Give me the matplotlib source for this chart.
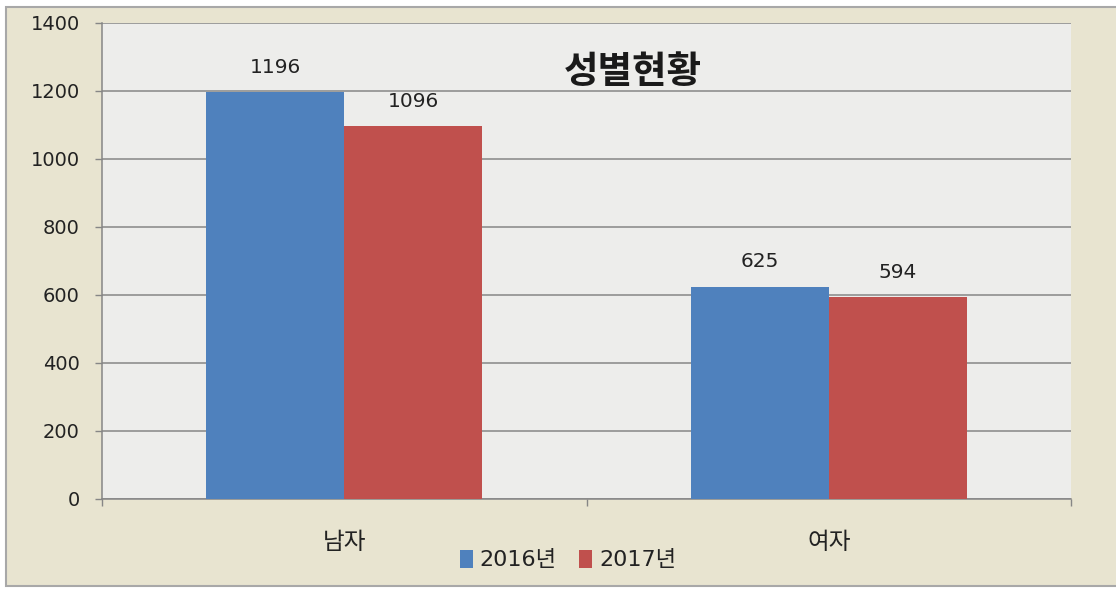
import matplotlib.pyplot as plt
import numpy as np
from matplotlib.patches import Rectangle

plt.rcParams['font.family'] = ['DejaVu Sans', 'Noto Sans CJK KR']

categories = ['남자', '여자']
series_names = ['2016년', '2017년']
values_2016 = [1196, 625]
values_2017 = [1096, 594]
yticks = [0, 200, 400, 600, 800, 1000, 1200, 1400]

blue = '#4F81BD'
red = '#C0504D'
grid_col = '#868686'

fig = plt.figure(figsize=(11.16, 5.94), dpi=100, facecolor='white')
# outer chart frame, behind the axes
fig.patches.append(Rectangle((6 / 1116, 8 / 594), 1.0, (586 - 7) / 594,
                             transform=fig.transFigure, facecolor='#E8E4D0',
                             edgecolor='#A8A8A8', lw=1.5, zorder=-1))

ax = fig.add_axes([102 / 1116, 95 / 594, 969 / 1116, 476 / 594])
ax.set_facecolor('#EDEDEB')

x = np.arange(len(categories))
w = 0.285
b1 = ax.bar(x - w / 2, values_2016, w, color=blue, label=series_names[0], zorder=3)
b2 = ax.bar(x + w / 2, values_2017, w, color=red, label=series_names[1], zorder=3)

for bars in (b1, b2):
    for rect in bars:
        ax.annotate(f'{int(rect.get_height())}',
                    (rect.get_x() + rect.get_width() / 2, rect.get_height()),
                    xytext=(0, 11), textcoords='offset points',
                    ha='center', va='bottom', fontsize=14.5, color='#222222')

ax.set_xlim(-0.5, 1.5)
ax.set_ylim(0, 1400)
ax.set_yticks(yticks)
ax.yaxis.grid(True, color=grid_col, lw=1.1, zorder=1)
ax.tick_params(axis='y', length=5, width=1, color=grid_col, labelsize=14,
               pad=11, labelcolor='#222222')

ax.set_xticks([-0.5, 0.5, 1.5])
ax.set_xticklabels([])
ax.set_xticks(x, minor=True)
ax.set_xticklabels(categories, minor=True, fontsize=17, color='#222222')
ax.tick_params(axis='x', which='major', length=5, width=1, color=grid_col)
ax.tick_params(axis='x', which='minor', length=0, pad=22)

for s in ('top', 'right'):
    ax.spines[s].set_visible(False)
for s in ('left', 'bottom'):
    ax.spines[s].set_color(grid_col)
    ax.spines[s].set_linewidth(1.1)

ax.text(0.548, 0.895, '성별현황', transform=ax.transAxes, ha='center', va='center',
        fontsize=27, fontweight='bold', color='#1a1a1a')

fig.legend(loc='center', bbox_to_anchor=(568 / 1116, 34 / 594), ncol=2,
           frameon=False, fontsize=16, handlelength=0.6, handleheight=0.9,
           handletextpad=0.3, columnspacing=1.0, labelcolor='#222222')

fig.savefig('out.png', dpi=100, facecolor=fig.get_facecolor())
